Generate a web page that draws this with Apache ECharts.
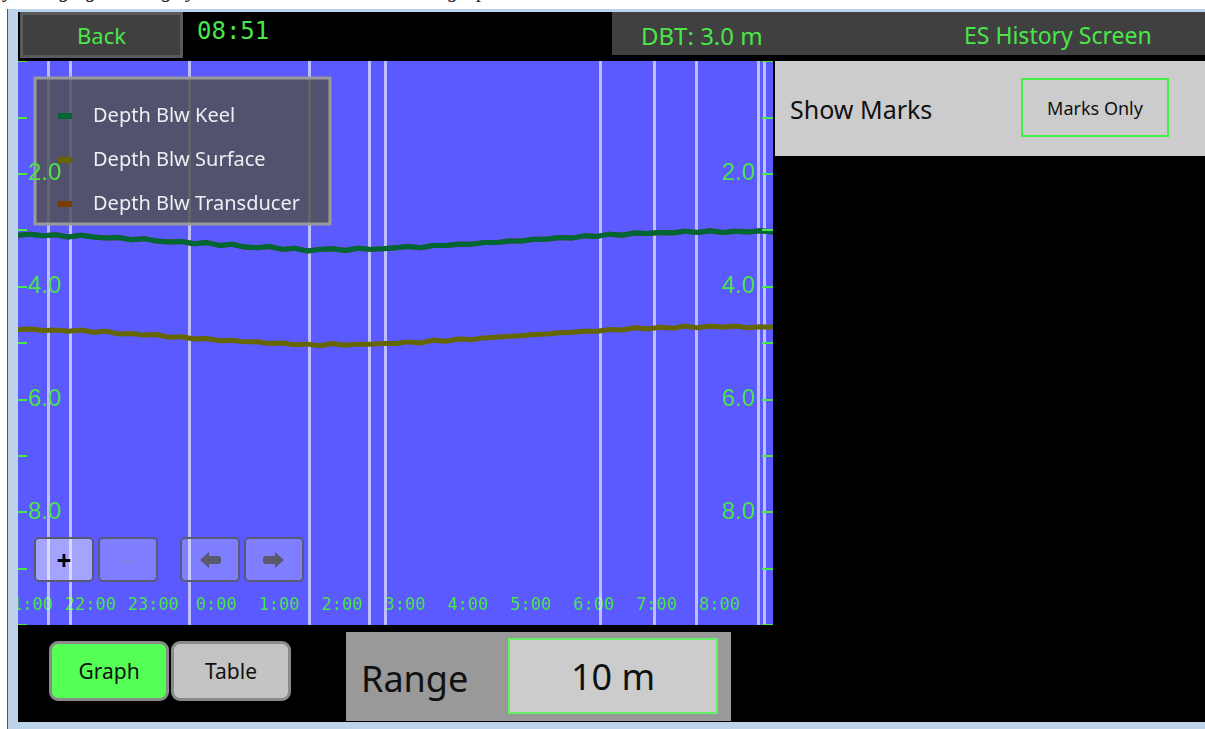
<!DOCTYPE html>
<html>
<head>
<meta charset="utf-8">
<script src="https://cdn.jsdelivr.net/npm/echarts@6/dist/echarts.min.js"></script>
<style>
  * { box-sizing: border-box; }
  body { margin: 0; width: 1205px; height: 729px; background: #fff; position: relative; overflow: hidden; font-family: 'Noto Sans', sans-serif; }
  .abs { position: absolute; }
  .topText { left: 0; top: 0; width: 1205px; height: 9px; overflow: hidden; }
  .topText span { position: absolute; left: 4px; top: -22px; font: italic 21px 'Liberation Serif', serif; color: #222; white-space: nowrap; }
  .frame { left: 7px; top: 9px; width: 1198px; height: 720px; background: #bcd3ea; border-left: 1px solid #555; }
  .app { left: 18px; top: 12px; width: 1187px; height: 710px; background: #000; }
  .green { color: #4ae64a; }
  .back { left: 20px; top: 12px; width: 163px; height: 46px; background: #404040; border: 3px solid #5a5a5a; font-size: 22px; display: flex; align-items: center; justify-content: center; }
  .clock { left: 197px; top: 17px; font: 24px 'DejaVu Sans Mono', monospace; }
  .head { left: 612px; top: 12px; width: 593px; height: 43px; background: #404040; }
  .head span { position: absolute; top: 7px; font-size: 23px; }
  #chart { left: 18px; top: 61px; width: 755px; height: 564px; }
  .panel { left: 775px; top: 61px; width: 430px; height: 95px; background: #cccccc; }
  .showMarks { left: 15px; top: 31px; font-size: 25px; color: #111; }
  .marksOnly { left: 246px; top: 17px; width: 148px; height: 59px; border: 2px solid #44ee44; font-size: 18px; color: #111; display: flex; align-items: center; justify-content: center; }
  .pbtn { width: 60px; height: 45px; border: 2px solid #5a5a78; border-radius: 5px; background: rgba(255,255,255,0.22); display: flex; align-items: center; justify-content: center; z-index: 5; }
  .btn { top: 641px; width: 120px; height: 60px; border: 3px solid #8a8a8a; border-radius: 9px; font-size: 21px; color: #111; display: flex; align-items: center; justify-content: center; }
  .range { left: 346px; top: 632px; width: 385px; height: 89px; background: #999999; }
  .range .lbl { position: absolute; left: 15px; top: 22px; font-size: 36px; color: #111; }
  .range .val { position: absolute; left: 162px; top: 6px; width: 210px; height: 76px; background: #cccccc; border: 2px solid #66ee66; font-size: 36px; color: #111; display: flex; align-items: center; justify-content: center; }
</style>
</head>
<body>
<div class="abs topText"><span>y changing the range you can see more detail on the graph.</span></div>
<div class="abs frame"></div>
<div class="abs app"></div>
<div class="abs back green">Back</div>
<div class="abs clock green">08:51</div>
<div class="abs head">
  <span class="green" style="left:29px;font-size:24px">DBT: 3.0 m</span>
  <span class="green" style="left:352px">ES History Screen</span>
</div>
<div class="abs" id="chart"></div>
<div class="abs pbtn" style="left:34px;top:537px;background:rgba(255,255,255,0.45)"><span style="font-size:26px;font-weight:bold;color:#000;line-height:1">+</span></div>
<div class="abs pbtn" style="left:98px;top:537px"><span style="font-size:18px;color:#8080a0">-</span></div>
<div class="abs pbtn" style="left:180px;top:537px">
  <svg width="24" height="20" viewBox="0 0 24 20"><path d="M2 10 L11 2 L11 6 L21 6 Q23 6 23 10 Q23 14 21 14 L11 14 L11 18 Z" fill="#5a5a6a"/></svg>
</div>
<div class="abs pbtn" style="left:244px;top:537px">
  <svg width="24" height="20" viewBox="0 0 24 20"><path d="M22 10 L13 2 L13 6 L3 6 Q1 6 1 10 Q1 14 3 14 L13 14 L13 18 Z" fill="#5a5a6a"/></svg>
</div>
<div class="abs panel">
  <div class="abs showMarks">Show Marks</div>
  <div class="abs marksOnly">Marks Only</div>
</div>
<div class="abs btn" style="left:49px;background:#55ff55">Graph</div>
<div class="abs btn" style="left:171px;background:#c4c4c4">Table</div>
<div class="abs range">
  <div class="lbl">Range</div>
  <div class="val">10 m</div>
</div>

<script>
  // sample times, every 12 minutes from 20:51 to 08:51
  const times = ['20:51', '21:03', '21:15', '21:27', '21:39', '21:51', '22:03', '22:15', '22:27', '22:39', '22:51',
    '23:03', '23:15', '23:27', '23:39', '23:51', '0:03', '0:15', '0:27', '0:39', '0:51', '1:03', '1:15', '1:27', '1:39', '1:51',
    '2:03', '2:15', '2:27', '2:39', '2:51', '3:03', '3:15', '3:27', '3:39', '3:51', '4:03', '4:15', '4:27', '4:39', '4:51',
    '5:03', '5:15', '5:27', '5:39', '5:51', '6:03', '6:15', '6:27', '6:39', '6:51', '7:03', '7:15', '7:27', '7:39', '7:51',
    '8:03', '8:15', '8:27', '8:39', '8:51'];
  const keel = [3.09, 3.07, 3.10, 3.08, 3.12, 3.09, 3.12, 3.14, 3.13, 3.17, 3.15, 3.19, 3.21, 3.20, 3.24, 3.22, 3.27, 3.25, 3.30, 3.31,
    3.29, 3.34, 3.32, 3.37, 3.34, 3.33, 3.36, 3.32, 3.34, 3.33, 3.31, 3.29, 3.31, 3.27, 3.27, 3.25, 3.25, 3.22, 3.22, 3.19,
    3.19, 3.16, 3.16, 3.13, 3.14, 3.10, 3.11, 3.07, 3.09, 3.05, 3.06, 3.04, 3.05, 3.02, 3.04, 3.01, 3.04, 3.02, 3.03, 3.01, 3.03];
  const surface = [4.76, 4.75, 4.78, 4.77, 4.79, 4.77, 4.81, 4.79, 4.84, 4.83, 4.86, 4.85, 4.90, 4.89, 4.93, 4.92, 4.96, 4.95, 4.98, 4.98,
    5.01, 5.00, 5.03, 5.02, 5.05, 5.01, 5.04, 5.02, 5.02, 5.01, 5.01, 4.98, 5.00, 4.95, 4.97, 4.93, 4.94, 4.91, 4.90, 4.88,
    4.87, 4.85, 4.84, 4.82, 4.81, 4.79, 4.79, 4.76, 4.77, 4.73, 4.75, 4.72, 4.74, 4.70, 4.73, 4.70, 4.72, 4.70, 4.73, 4.71, 4.72];
  const transducer = [3.09, 3.07, 3.10, 3.08, 3.12, 3.09, 3.12, 3.14, 3.13, 3.17, 3.15, 3.19, 3.21, 3.20, 3.24, 3.22, 3.27, 3.25, 3.30, 3.31,
    3.29, 3.34, 3.32, 3.37, 3.34, 3.33, 3.36, 3.32, 3.34, 3.33, 3.31, 3.29, 3.31, 3.27, 3.27, 3.25, 3.25, 3.22, 3.22, 3.19,
    3.19, 3.16, 3.16, 3.13, 3.14, 3.10, 3.11, 3.07, 3.09, 3.05, 3.06, 3.04, 3.05, 3.02, 3.04, 3.01, 3.04, 3.02, 3.03, 3.01, 3.03];
  const marks = ['21:20', '21:41', '23:34', '1:29', '2:26', '2:41', '6:06', '6:58', '7:38', '8:37', '8:43'];
  const hourTicks = ['21:00', '22:00', '23:00', '0:00', '1:00', '2:00', '3:00', '4:00', '5:00', '6:00', '7:00', '8:00'];
  const viewStart = '20:51', viewEnd = '8:51';

  // minutes on a 2-day clock, morning hours belong to the next day
  function toMin(s) {
    let p = s.split(':');
    let h = +p[0], m = +p[1];
    return (h < 12 ? h + 24 : h) * 60 + m;
  }

  const green = '#4ae64a';
  const pair = arr => times.map((t, i) => [toMin(t), arr[i]]);

  let yAxisBase = {
    type: 'value', inverse: true, min: 0, max: 10, interval: 1, z: 30,
    axisLine: {show: false}, splitLine: {show: false},
    axisTick: {inside: true, lineStyle: {color: green, width: 2}},
    axisLabel: {
      inside: true, color: green, fontFamily: 'Liberation Sans', fontSize: 24,
      formatter: v => (v % 2 === 0 && v > 0 && v < 10) ? v.toFixed(1) : ''
    }
  };

  let chart = echarts.init(document.getElementById('chart'));
  chart.setOption({
    backgroundColor: '#5a5aff',
    animation: false,
    grid: {left: 0, right: 0, top: 0, bottom: 0, containLabel: false, outerBoundsMode: 'none'},
    legend: {
      orient: 'vertical', left: 17, top: 17, z: 20,
      padding: [28, 30, 10, 23], itemGap: 24, itemWidth: 14, itemHeight: 6, icon: 'rect',
      backgroundColor: 'rgba(80,80,80,0.83)', borderColor: '#9a9a9a', borderWidth: 3,
      data: ['Depth Blw Keel', 'Depth Blw Surface', 'Depth Blw Transducer'],
      formatter: n => '{g|}' + n,
      textStyle: {color: '#eeeef4', fontFamily: 'Noto Sans', fontSize: 20, rich: {g: {width: 16}}}
    },
    xAxis: {
      type: 'value', min: toMin(viewStart), max: toMin(viewEnd),
      axisLine: {show: false}, splitLine: {show: false},
      axisTick: {inside: true, length: 10, customValues: hourTicks.map(toMin), lineStyle: {color: green, width: 2}},
      axisLabel: {
        inside: true, margin: 11, customValues: hourTicks.map(toMin),
        color: green, fontFamily: 'DejaVu Sans Mono', fontSize: 17,
        formatter: v => (Math.floor(v / 60) % 24) + ':00'
      }
    },
    yAxis: [
      Object.assign({}, yAxisBase, {position: 'left', axisTick: Object.assign({}, yAxisBase.axisTick, {length: 9}),
        axisLabel: Object.assign({}, yAxisBase.axisLabel, {margin: 10})}),
      Object.assign({}, yAxisBase, {position: 'right', axisTick: Object.assign({}, yAxisBase.axisTick, {length: 11}),
        axisLabel: Object.assign({}, yAxisBase.axisLabel, {margin: 18})})
    ],
    series: [
      {
        name: 'Depth Blw Transducer', type: 'line', data: pair(transducer), showSymbol: false, z: 2,
        color: '#7a3c00', lineStyle: {width: 5},
        markLine: {
          silent: true, symbol: 'none', label: {show: false}, z: 1,
          lineStyle: {color: 'rgba(255,255,255,0.6)', width: 3, type: 'solid'},
          data: marks.map(t => ({xAxis: toMin(t)}))
        }
      },
      {name: 'Depth Blw Surface', type: 'line', data: pair(surface), showSymbol: false, z: 3, color: '#666600', lineStyle: {width: 5}},
      {name: 'Depth Blw Keel', type: 'line', data: pair(keel), showSymbol: false, z: 4, color: '#006633', lineStyle: {width: 5}}
    ]
  });
</script>
</body>
</html>
